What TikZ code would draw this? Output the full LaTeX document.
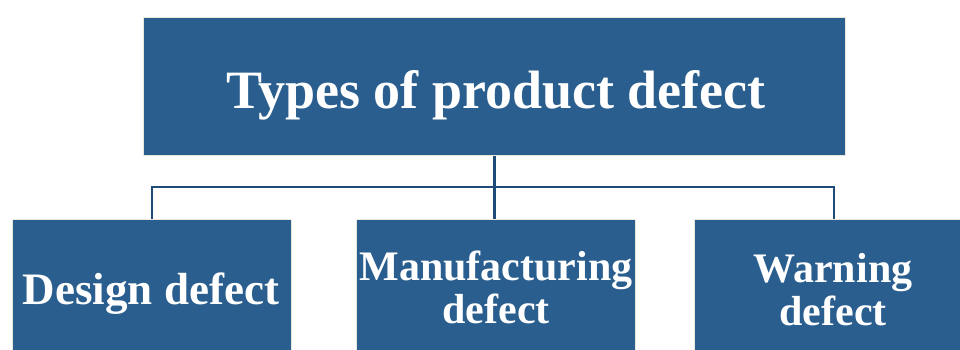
\documentclass[tikz,border=0pt]{standalone}
\usepackage{fontspec}
\setmainfont{Liberation Serif}
\definecolor{boxblue}{RGB}{41,94,142}
\definecolor{boxedge}{RGB}{234,232,220}
\definecolor{linkblue}{RGB}{30,75,120}
\begin{document}
\begin{tikzpicture}[x=1pt,y=-1pt,
  box/.style={draw=boxedge, line width=1.2pt, fill=boxblue, inner sep=0pt, anchor=north west},
  lbl/.style={text=white, font=\bfseries\fontsize{42}{43}\selectfont, align=center, inner sep=0pt},
  ttl/.style={text=white, font=\bfseries\fontsize{54}{60}\selectfont, inner sep=0pt},
  link/.style={draw=linkblue, line width=2.5pt}]
\useasboundingbox (0,0) rectangle (960,349);
\clip (0,0) rectangle (960,349);
\node[box, minimum width=702pt, minimum height=138pt] (top) at (143,17) {};
\node[box, minimum width=279pt, minimum height=200pt] (b1) at (12,219) {};
\node[box, minimum width=279pt, minimum height=200pt] (b2) at (356,219) {};
\node[box, minimum width=279pt, minimum height=200pt] (b3) at (694,219) {};
\node[ttl, anchor=base] (t0) at (496,108) {Types of product defect};
\node[lbl, anchor=base, font=\bfseries\fontsize{45}{46}\selectfont] (t1) at (151,304) {Design defect};
\node[lbl, anchor=base] (t2) at (496,323) {Manufacturing\\defect};
\node[lbl, anchor=base] (t3) at (833,325) {Warning\\defect};
\draw[link] (top.south) -- (top.south |- b2.north);
\draw[link] (b1.north) -- ++(0,-32) -| (b3.north);
\end{tikzpicture}
\end{document}
